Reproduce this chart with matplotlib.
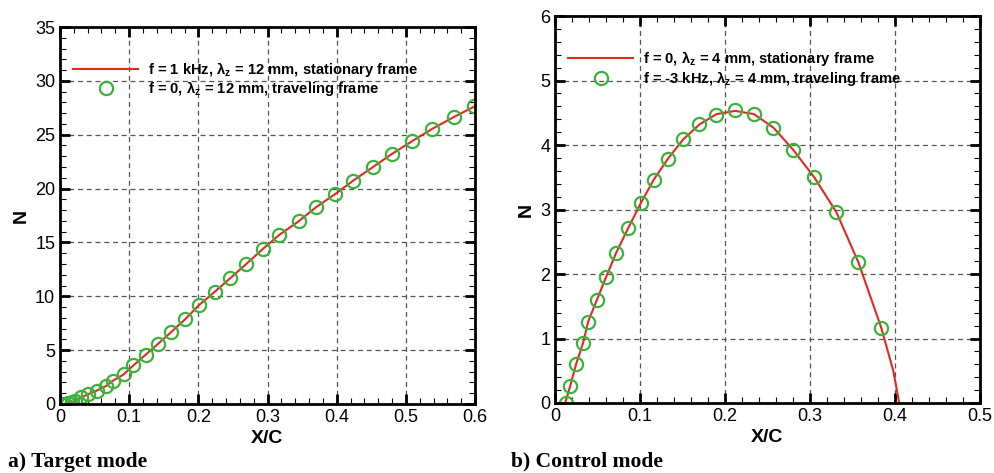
import numpy as np
import matplotlib.pyplot as plt
from matplotlib.ticker import MultipleLocator

plt.rcParams['font.family'] = ['Liberation Sans', 'DejaVu Sans']

# a) target mode: stationary frame curve and traveling frame points
xa_line = [0.010, 0.022, 0.031, 0.041, 0.053, 0.066, 0.077, 0.092, 0.106, 0.124, 0.142,
           0.161, 0.181, 0.201, 0.224, 0.246, 0.269, 0.293, 0.317, 0.345, 0.370,
           0.398, 0.424, 0.452, 0.480, 0.509, 0.538, 0.569, 0.600]
na_line = [0.0, 0.30, 0.60, 0.92, 1.24, 1.65, 2.18, 2.74, 3.58, 4.58, 5.60,
           6.69, 7.87, 9.18, 10.43, 11.67, 12.98, 14.38, 15.70, 16.96, 18.26,
           19.50, 20.74, 21.98, 23.22, 24.40, 25.54, 26.63, 27.65]
xa_pts = [0.002, 0.007, 0.012, 0.017, 0.022, 0.031, 0.041, 0.053, 0.066, 0.077, 0.092,
          0.106, 0.124, 0.142, 0.161, 0.181, 0.201, 0.224, 0.246, 0.269, 0.293,
          0.317, 0.345, 0.370, 0.398, 0.424, 0.452, 0.480, 0.509, 0.538, 0.569, 0.599]
na_pts = [0.0, 0.02, 0.06, 0.18, 0.31, 0.62, 0.93, 1.24, 1.65, 2.18, 2.74,
          3.58, 4.58, 5.60, 6.69, 7.87, 9.18, 10.43, 11.67, 12.98, 14.38,
          15.70, 16.96, 18.26, 19.50, 20.74, 21.98, 23.22, 24.40, 25.54, 26.63, 27.62]

# b) control mode
xb_line = [0.012, 0.018, 0.025, 0.033, 0.039, 0.049, 0.060, 0.072, 0.086, 0.101, 0.116,
           0.133, 0.151, 0.170, 0.190, 0.212, 0.234, 0.257, 0.280, 0.305, 0.331,
           0.357, 0.384, 0.398, 0.405]
nb_line = [0.0, 0.27, 0.61, 0.93, 1.26, 1.59, 1.95, 2.33, 2.71, 3.10, 3.46,
           3.79, 4.09, 4.32, 4.48, 4.53, 4.48, 4.27, 3.93, 3.50, 2.96,
           2.18, 1.16, 0.50, 0.0]
xb_pts = [0.013, 0.018, 0.025, 0.033, 0.039, 0.049, 0.060, 0.072, 0.086, 0.101, 0.116,
          0.133, 0.151, 0.170, 0.190, 0.212, 0.234, 0.257, 0.280, 0.305, 0.331,
          0.357, 0.384]
nb_pts = [0.0, 0.27, 0.61, 0.93, 1.26, 1.59, 1.95, 2.33, 2.71, 3.10, 3.46,
          3.79, 4.09, 4.32, 4.47, 4.54, 4.48, 4.27, 3.93, 3.50, 2.96,
          2.18, 1.16]

red = '#e02a22'
green = '#3db23a'
lam = r'$\mathregular{\lambda_z}$'

fig = plt.figure(figsize=(9.95, 4.73), dpi=100)
axa = fig.add_axes([0.0603, 0.1459, 0.4171, 0.797])
axb = fig.add_axes([0.5578, 0.148, 0.4271, 0.818])


def style(ax, xmax, ymax, xmaj, xmin, ymaj, ymin):
    ax.set_xlim(0, xmax)
    ax.set_ylim(0, ymax)
    ax.xaxis.set_major_locator(MultipleLocator(xmaj))
    ax.xaxis.set_minor_locator(MultipleLocator(xmin))
    ax.yaxis.set_major_locator(MultipleLocator(ymaj))
    ax.yaxis.set_minor_locator(MultipleLocator(ymin))
    ax.grid(True, which='major', color='#555555', linestyle=(0, (4, 3)), linewidth=0.9)
    ax.tick_params(which='both', direction='in', top=True, right=True, labelsize=13)
    ax.tick_params(which='major', length=7, width=2)
    ax.tick_params(which='minor', length=4, width=0.8)
    for s in ax.spines.values():
        s.set_linewidth(2)
    ax.xaxis.set_major_formatter(plt.FuncFormatter(lambda v, p: '0' if v == 0 else f'{v:g}'))
    ax.set_xlabel('X/C', fontsize=14, fontweight='bold', labelpad=3)
    ax.set_ylabel('N', fontsize=14, fontweight='bold')


style(axa, 0.6, 35, 0.1, 0.02, 5, 1)
style(axb, 0.5, 6, 0.1, 0.02, 1, 0.2)

axa.plot(xa_line, na_line, color=red, lw=1.5,
         label=f'f = 1 kHz, {lam} = 12 mm, stationary frame')
axa.plot(xa_pts, na_pts, 'o', ms=9.5, mfc='none', mec=green, mew=1.6,
         label=f'f = 0, {lam} = 12 mm, traveling frame')
axb.plot(xb_line, nb_line, color=red, lw=1.5,
         label=f'f = 0, {lam} = 4 mm, stationary frame')
axb.plot(xb_pts, nb_pts, 'o', ms=9.5, mfc='none', mec=green, mew=1.6,
         label=f'f = -3 kHz, {lam} = 4 mm, traveling frame')

for ax, anchor, sp in [(axa, (0.0, 0.948), 0.0), (axb, (0.0, 0.95), 0.1)]:
    ax.legend(loc='upper left', bbox_to_anchor=anchor, frameon=False,
              prop={'size': 10.6, 'weight': 'bold'}, handlelength=4.4,
              handletextpad=0.7, labelspacing=sp, borderaxespad=0.5)

fig.text(0.008, 0.024, 'a) Target mode', family='Liberation Serif',
         fontweight='bold', fontsize=15.5, va='center')
fig.text(0.514, 0.024, 'b) Control mode', family='Liberation Serif',
         fontweight='bold', fontsize=15.5, va='center')

fig.savefig('out.png', dpi=100)
